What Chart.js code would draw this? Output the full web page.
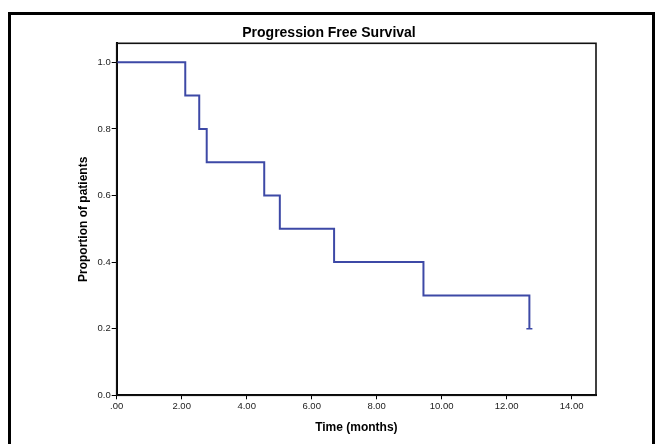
<!DOCTYPE html>
<html>
<head>
<meta charset="utf-8">
<script src="https://cdn.jsdelivr.net/npm/chart.js@4"></script>
<style>
  html, body { margin: 0; padding: 0; background: #fff; }
  #wrap { width: 658px; height: 444px; }
</style>
</head>
<body>
<div id="wrap"><canvas id="pfsChart" width="658" height="444"></canvas></div>
<script>
// Kaplan-Meier steps
const timeMonths = [0, 2.11, 2.54, 2.77, 4.54, 5.02, 6.69, 9.44, 12.7];
const proportion = [1.0, 0.9, 0.8, 0.7, 0.6, 0.5, 0.4, 0.3, 0.2];

const xTickValues = [0, 2, 4, 6, 8, 10, 12, 14];
const xTickLabels = [".00", "2.00", "4.00", "6.00", "8.00", "10.00", "12.00", "14.00"];
const yTickValues = [0, 0.2, 0.4, 0.6, 0.8, 1.0];
const yTickLabels = ["0.0", "0.2", "0.4", "0.6", "0.8", "1.0"];

const lineBlue = "#3d49a6";
const fontFam = "'Liberation Sans', Arial, sans-serif";

const pts = timeMonths.map((t, i) => ({ x: t, y: proportion[i] }));
const lastIdx = pts.length - 1;

// outer frame + plot box
const framePlugin = {
  id: "framePlugin",
  beforeDraw(chart) {
    const ctx = chart.ctx;
    ctx.save();
    ctx.strokeStyle = "#000";
    ctx.lineWidth = 3;
    ctx.strokeRect(9.5, 13.5, 644, 500);
    ctx.restore();
  },
  afterDraw(chart) {
    const a = chart.chartArea;
    const ctx = chart.ctx;
    ctx.save();
    ctx.strokeStyle = "#111";
    ctx.lineWidth = 1.6;
    ctx.strokeRect(a.left, a.top, a.right - a.left, a.bottom - a.top);
    ctx.restore();
  },
};

function keepTicks(values) {
  return function (scale) {
    scale.ticks = values.map((v) => ({ value: v }));
  };
}

const config = {
  type: "line",
  data: {
    datasets: [
      {
        label: "PFS",
        data: pts,
        stepped: true,
        borderColor: lineBlue,
        borderWidth: 2,
        fill: false,
        pointRadius: pts.map((p, i) => (i === lastIdx ? 3 : 0)),
        pointStyle: "line",
        pointBorderColor: lineBlue,
        pointBorderWidth: 1.5,
      },
    ],
  },
  options: {
    responsive: false,
    animation: false,
    layout: { padding: 0 },
    plugins: {
      legend: { display: false },
      tooltip: { enabled: false },
      title: {
        display: true,
        text: "Progression Free Survival",
        color: "#000",
        font: { family: fontFam, size: 14, weight: "bold" },
        padding: { top: 24.6, bottom: 1.9 },
      },
    },
    scales: {
      x: {
        type: "linear",
        min: 0,
        max: 14.75,
        afterBuildTicks: keepTicks(xTickValues),
        afterFit(scale) { scale.height = 48.7; },
        grid: { drawOnChartArea: false, drawTicks: true, tickLength: 4, color: "#000", lineWidth: 1 },
        border: { display: true, color: "#000", width: 2 },
        ticks: {
          color: "#222",
          font: { family: fontFam, size: 9.5 },
          padding: 1,
          maxRotation: 0,
          autoSkip: false,
          callback: (v) => xTickLabels[xTickValues.indexOf(v)],
        },
        title: {
          display: true,
          text: "Time (months)",
          color: "#000",
          font: { family: fontFam, size: 12, weight: "bold" },
          padding: { top: 0, bottom: 9 },
        },
      },
      y: {
        min: 0,
        max: 1.057,
        afterBuildTicks: keepTicks(yTickValues),
        afterFit(scale) { scale.width = 116.7; },
        grid: { drawOnChartArea: false, drawTicks: true, tickLength: 5, color: "#000", lineWidth: 1 },
        border: { display: true, color: "#000", width: 2 },
        ticks: {
          color: "#222",
          font: { family: fontFam, size: 9.5 },
          padding: 1,
          autoSkip: false,
          callback: (v) => yTickLabels[yTickValues.indexOf(v)],
        },
        title: {
          display: true,
          text: "Proportion of patients",
          color: "#000",
          font: { family: fontFam, size: 12, weight: "bold" },
          padding: { top: 76, bottom: 0 },
        },
      },
      // empty right-hand strip so the title centres on the whole figure
      yRight: {
        position: "right",
        min: 0,
        max: 1.057,
        afterFit(scale) { scale.width = 62; },
        grid: { display: false },
        border: { display: false },
        ticks: { display: false },
      },
    },
  },
  plugins: [framePlugin],
};

new Chart(document.getElementById("pfsChart"), config);
</script>
</body>
</html>
